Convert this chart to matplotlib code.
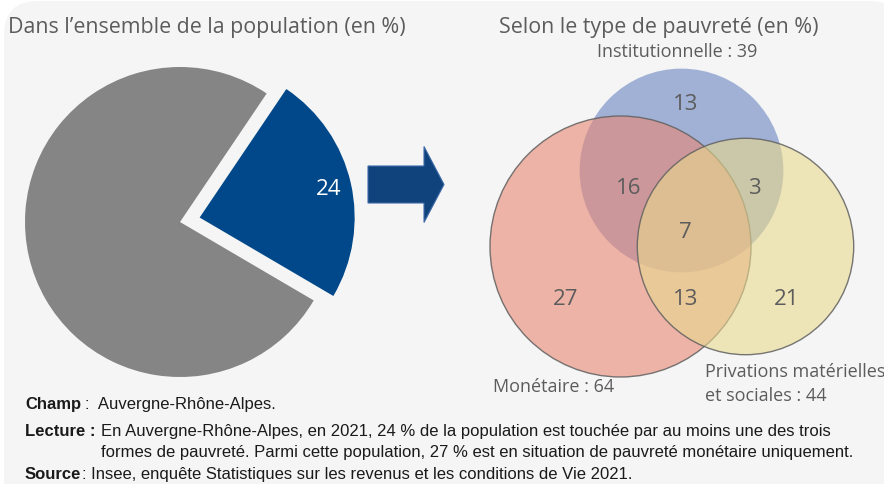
import numpy as np
import matplotlib
matplotlib.use('Agg')
import matplotlib.pyplot as plt
import matplotlib.patches as mpatches
from matplotlib import font_manager

# data
pie_labels = ['Touchée par au moins une forme de pauvreté', 'Autres']
pie_values = [24, 76]

set_names = ['Institutionnelle', 'Monétaire', 'Privations matérielles\net sociales']
set_totals = [39, 64, 44]
# regions : only I, I&M, I&P, I&M&P, only M, M&P, only P
region_labels = ['I', 'IM', 'IP', 'IMP', 'M', 'MP', 'P']
region_values = [13, 16, 3, 7, 27, 13, 21]

W, H = 884, 485
fig = plt.figure(figsize=(W / 100, H / 100), dpi=100)
fig.patch.set_facecolor('white')

# full figure axes in pixel units
ax = fig.add_axes([0, 0, 1, 1], zorder=0)
ax.set_xlim(0, W)
ax.set_ylim(H, 0)
ax.axis('off')

bg = mpatches.FancyBboxPatch((4, 2), 900, 520, boxstyle='round,pad=0,rounding_size=34',
                             facecolor='#f5f5f5', edgecolor='none')
ax.add_patch(bg)

sans = 'Open Sans'
narrow = 'Liberation Sans Narrow'
names = [f.name for f in font_manager.fontManager.ttflist]
if narrow not in names:
    narrow = 'Liberation Sans'

grey_txt = '#5c5c5c'

# titles
ax.text(8, 27, 'Dans l\u2019ensemble de la population (en %)', fontsize=15.4, family=sans,
        color=grey_txt, va='center', ha='left')
ax.text(659, 27, 'Selon le type de pauvreté (en %)', fontsize=15.4, family=sans,
        color=grey_txt, va='center', ha='center')

# arrow
arrow = mpatches.FancyArrow(368, 185.5, 76, 0, width=37, head_width=76, head_length=20,
                            length_includes_head=True, facecolor='#10427c', edgecolor='#3c6aa8', lw=0.8)
ax.add_patch(arrow)

# venn
scale = 130.5 / np.sqrt(64)
radii = [scale * np.sqrt(t) for t in set_totals]
centers = [(681.5, 171.5), (620.5, 247.5), (745.5, 247.5)]
base_cols = ['#6984c1', '#e98773', '#e8d98e']
edges = ['none', '#606060', '#606060']
for c, r, fc, ec in zip(centers, radii, base_cols, edges):
    ax.add_patch(mpatches.Circle(c, r, facecolor=fc, alpha=0.6, edgecolor='none'))
    if ec != 'none':
        ax.add_patch(mpatches.Circle(c, r, facecolor='none', edgecolor=ec, lw=1.0, alpha=0.85))

region_pos = {'I': (686, 104), 'IM': (629, 189), 'IP': (754, 189), 'IMP': (685, 233),
              'M': (566, 300), 'MP': (686, 300), 'P': (787, 300)}
for lab, val in zip(region_labels, region_values):
    x, y = region_pos[lab]
    ax.text(x, y, str(val), fontsize=16, family=sans, color=grey_txt, ha='center', va='center')

ax.text(677, 52, f'{set_names[0]} : {set_totals[0]}', fontsize=13, family=sans,
        color=grey_txt, ha='center', va='center')
ax.text(493, 387, f'{set_names[1]} : {set_totals[1]}', fontsize=13, family=sans,
        color=grey_txt, ha='left', va='center')
ax.text(705, 384, f'{set_names[2]} : {set_totals[2]}', fontsize=13, family=sans,
        color=grey_txt, ha='left', va='center', linespacing=1.42)

# pie
R = 155
cx, cy = 180, 223
half = 1.2 * R
pax = fig.add_axes([(cx - half) / W, (H - cy - half) / H, 2 * half / W, 2 * half / H], zorder=1)
pax.patch.set_alpha(0)
wedges, texts, autotexts = pax.pie(pie_values, colors=['#004889', '#858585'], startangle=56,
                                   counterclock=False, explode=[0.13, 0],
                                   autopct=lambda p: '%d' % round(p) if p < 50 else '',
                                   pctdistance=0.85, wedgeprops=dict(linewidth=0))
for t in autotexts:
    t.set_color('white')
    t.set_fontsize(16)
    t.set_family(sans)
pax.set_xlim(-1.2, 1.2)
pax.set_ylim(-1.2, 1.2)
pax.set_aspect('equal')
pax.axis('off')

# notes
dark = '#1a1a1a'
fs = 12
ax.text(25, 405, 'Champ', fontsize=fs, family=narrow, weight='bold', color=dark, va='center')
ax.text(85, 405, ':  Auvergne-Rhône-Alpes.', fontsize=fs, family=narrow, color=dark, va='center')
ax.text(25, 432, 'Lecture :', fontsize=fs, family=narrow, weight='bold', color=dark, va='center')
ax.text(101, 432, 'En Auvergne-Rhône-Alpes, en 2021, 24 % de la population est touchée par au moins une des trois',
        fontsize=fs, family=narrow, color=dark, va='center')
ax.text(101, 453, 'formes de pauvreté. Parmi cette population, 27 % est en situation de pauvreté monétaire uniquement.',
        fontsize=fs, family=narrow, color=dark, va='center')
ax.text(25, 475, 'Source', fontsize=fs, family=narrow, weight='bold', color=dark, va='center')
ax.text(82, 475, ': Insee, enquête Statistiques sur les revenus et les conditions de Vie 2021.',
        fontsize=fs, family=narrow, color=dark, va='center')

fig.savefig('out.png', dpi=100)
